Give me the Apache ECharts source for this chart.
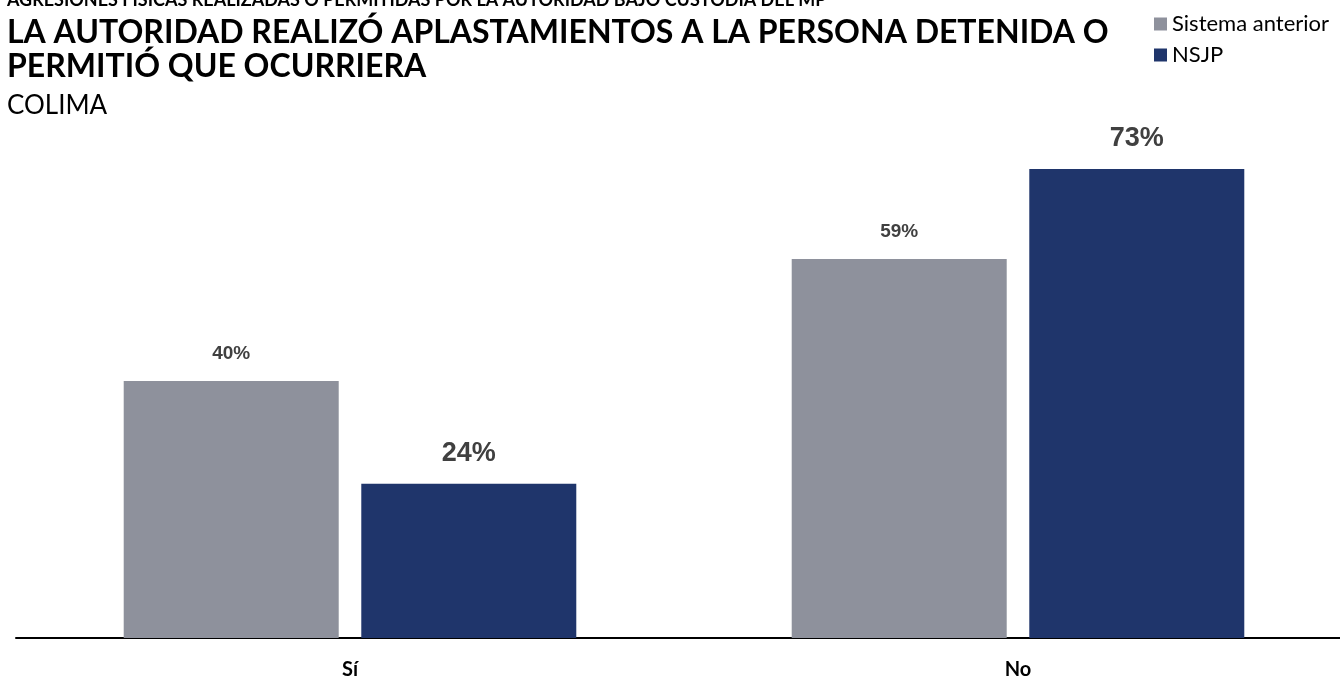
<!DOCTYPE html>
<html>
<head>
<meta charset="utf-8">
<script src="https://cdn.jsdelivr.net/npm/echarts@6/dist/echarts.min.js"></script>
<style>
  html, body { margin: 0; padding: 0; background: #fff; }
  #chart { width: 1340px; height: 679px; }
</style>
</head>
<body>
<div id="chart"></div>
<script>
// Categories, series and values (percent)
const categories = ['Sí', 'No'];
const seriesNames = ['Sistema anterior', 'NSJP'];
const sistemaAnterior = [40, 59];
const nsjp = [24, 73];

const kicker = 'AGRESIONES FÍSICAS REALIZADAS O PERMITIDAS POR LA AUTORIDAD BAJO CUSTODIA DEL MP';
const titleLines = ['LA AUTORIDAD REALIZÓ APLASTAMIENTOS A LA PERSONA DETENIDA O', 'PERMITIÓ QUE OCURRIERA'];
const subtitle = 'COLIMA';

const GRAY = '#8e919c';
const NAVY = '#1f356b';
const FONT = 'Lato, "Open Sans", sans-serif';

const chart = echarts.init(document.getElementById('chart'));

const labelBase = {
  show: true,
  position: 'top',
  color: '#404040',
  fontFamily: 'Arial, "Liberation Sans", sans-serif',
  fontWeight: 'bold',
  formatter: p => p.value + '%'
};

chart.setOption({
  animation: false,
  graphic: [
    { type: 'text', left: 7, top: -9, style: { text: kicker, font: 'bold 18px ' + FONT, fill: '#000' } },
    { type: 'text', left: 7, top: 17, style: { text: titleLines[0], font: 'bold 32px ' + FONT, fill: '#000' } },
    { type: 'text', left: 7, top: 51, style: { text: titleLines[1], font: 'bold 32px ' + FONT, fill: '#000' } },
    { type: 'text', left: 7, top: 93, style: { text: subtitle, font: '26px ' + FONT, fill: '#000' } }
  ],
  legend: {
    orient: 'vertical',
    left: 1154,
    top: 13,
    padding: 0,
    icon: 'rect',
    itemWidth: 13,
    itemHeight: 13,
    itemGap: 9,
    textStyle: { fontFamily: FONT, fontSize: 22, color: '#000' },
    data: seriesNames
  },
  grid: { left: 16, top: 124, width: 1336, height: 514, containLabel: false, outerBoundsMode: 'none' },
  xAxis: {
    type: 'category',
    data: categories,
    axisLine: { lineStyle: { color: '#000', width: 2 } },
    axisTick: { show: false },
    axisLabel: { margin: 22, color: '#000', fontFamily: FONT, fontWeight: 'bold', fontSize: 20 }
  },
  yAxis: {
    type: 'value',
    min: 0,
    max: 80,
    show: false,
    splitLine: { show: false }
  },
  series: [
    {
      name: seriesNames[0],
      type: 'bar',
      data: sistemaAnterior,
      barWidth: 215,
      barGap: '10.5%',
      itemStyle: { color: GRAY },
      label: Object.assign({}, labelBase, { fontSize: 19, distance: 18 })
    },
    {
      name: seriesNames[1],
      type: 'bar',
      data: nsjp,
      barWidth: 215,
      itemStyle: { color: NAVY },
      label: Object.assign({}, labelBase, { fontSize: 27, distance: 17 })
    }
  ]
});
</script>
</body>
</html>
